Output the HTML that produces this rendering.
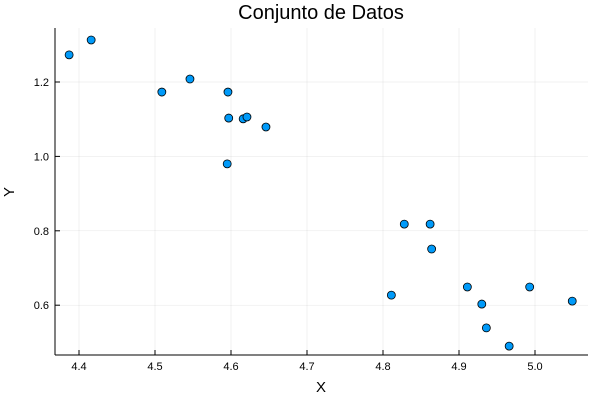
<!DOCTYPE html>
<html><head><meta charset="utf-8"><style>body{margin:0;background:#fff}svg{display:block}</style></head>
<body>
<svg id="chart" width="600" height="400" xmlns="http://www.w3.org/2000/svg" font-family="Liberation Sans, DejaVu Sans, sans-serif">
<text x="321" y="19" font-size="20" text-anchor="middle">Conjunto de Datos</text>
<text x="321" y="392" font-size="15" text-anchor="middle">X</text>
<text x="14" y="192" font-size="15" text-anchor="middle" transform="rotate(-90 14 192)">Y</text>
<g id="grid"></g><g id="axes"></g><g id="pts"></g>
</svg>
<script>
const xs=[4.387,4.416,4.509,4.546,4.596,4.597,4.616,4.621,4.646,4.595,4.828,4.862,4.864,4.811,4.911,4.930,4.936,4.966,4.993,5.049];
const ys=[1.273,1.313,1.173,1.208,1.173,1.103,1.101,1.106,1.079,0.980,0.818,0.818,0.751,0.627,0.649,0.603,0.539,0.490,0.649,0.611];
const xTicks=[4.4,4.5,4.6,4.7,4.8,4.9,5.0];
const yTicks=[0.6,0.8,1.0,1.2];
const L=55,R=588,T=28,B=355;
const X=v=>79+(v-4.4)*760;
const Y=v=>82+(1.2-v)*372;
const ns="http://www.w3.org/2000/svg";
function mk(t,a,p){const e=document.createElementNS(ns,t);for(const k in a)e.setAttribute(k,a[k]);p.appendChild(e);return e;}
const g=document.getElementById('grid'),ax=document.getElementById('axes'),pg=document.getElementById('pts');
xTicks.forEach(v=>{
 const l=mk('line',{x1:X(v),x2:X(v),y1:T,y2:B,stroke:'#000','stroke-opacity':0.1,'stroke-width':0.5},g);
 
 
 const tk=mk('line',{x1:X(v),x2:X(v),y1:B,y2:B-5,stroke:'#000','stroke-width':1},ax);
 
 
 const t=mk('text',{x:X(v),y:B+15,'font-size':11,'text-anchor':'middle'},ax);t.textContent=v.toFixed(1);
 
 
});
yTicks.forEach(v=>{
 const l=mk('line',{x1:L,x2:R,y1:Y(v),y2:Y(v),stroke:'#000','stroke-opacity':0.1,'stroke-width':0.5},g);
 
 
 const tk=mk('line',{x1:L,x2:L+5,y1:Y(v),y2:Y(v),stroke:'#000','stroke-width':1},ax);
 
 
 const t=mk('text',{x:L-6,y:Y(v)+4,'font-size':11,'text-anchor':'end'},ax);t.textContent=v.toFixed(1);
 
 
});
const xa=mk('line',{x1:L,x2:R,y1:B,y2:B,stroke:'#000','stroke-width':1},ax);


const ya=mk('line',{x1:L,x2:L,y1:T,y2:B,stroke:'#000','stroke-width':1},ax);


xs.forEach((v,i)=>{
 const c=mk('circle',{cx:X(v),cy:Y(ys[i]),r:4,fill:'#009af9',stroke:'#000','stroke-width':0.8},pg);
 
 
});
</script>
</body></html>
